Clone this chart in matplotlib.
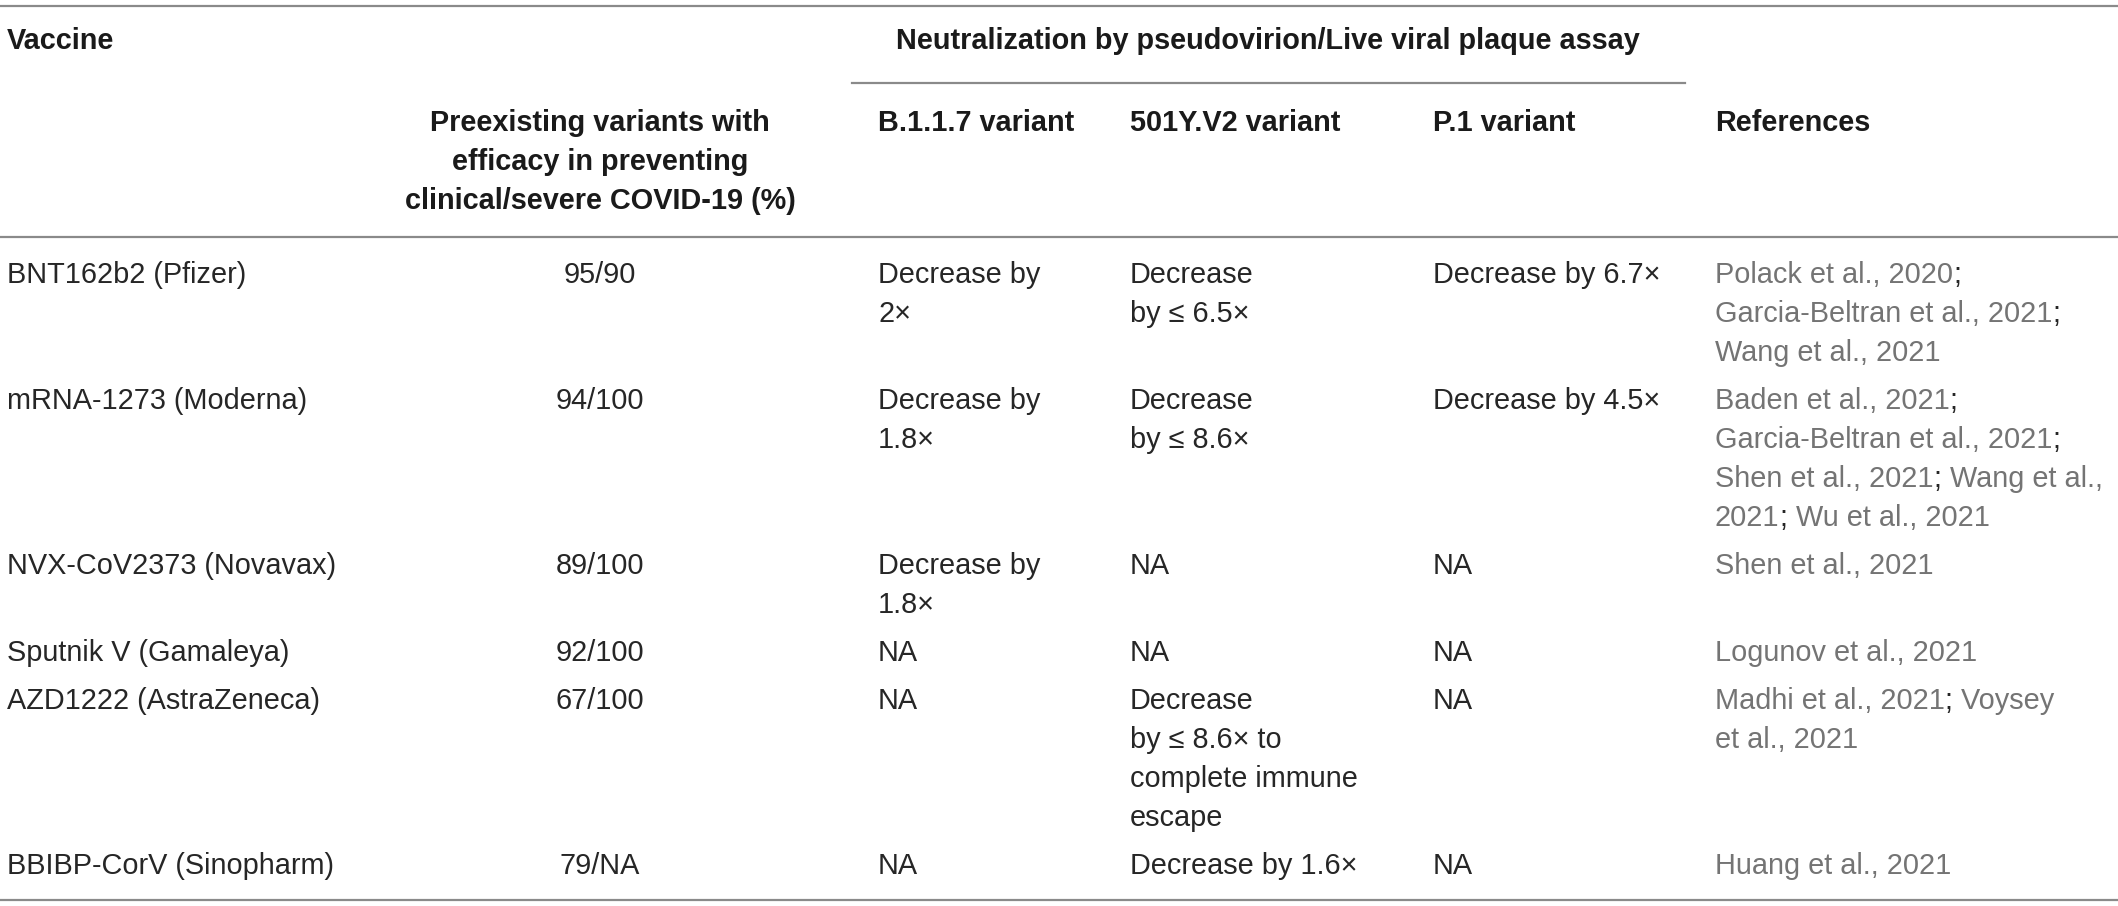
import matplotlib.pyplot as plt

# table contents
vaccines = ['BNT162b2 (Pfizer)', 'mRNA-1273 (Moderna)', 'NVX-CoV2373 (Novavax)',
            'Sputnik V (Gamaleya)', 'AZD1222 (AstraZeneca)', 'BBIBP-CorV (Sinopharm)']
efficacy = ['95/90', '94/100', '89/100', '92/100', '67/100', '79/NA']
b117 = ['Decrease by\n2\u00d7', 'Decrease by\n1.8\u00d7', 'Decrease by\n1.8\u00d7', 'NA', 'NA', 'NA']
v501 = ['Decrease\nby \u2264 6.5\u00d7', 'Decrease\nby \u2264 8.6\u00d7', 'NA', 'NA',
        'Decrease\nby \u2264 8.6\u00d7 to\ncomplete immune\nescape', 'Decrease by 1.6\u00d7']
p1 = ['Decrease by 6.7\u00d7', 'Decrease by 4.5\u00d7', 'NA', 'NA', 'NA', 'NA']
refs = ['Polack et al., 2020;\nGarcia-Beltran et al., 2021;\nWang et al., 2021',
        'Baden et al., 2021;\nGarcia-Beltran et al., 2021;\nShen et al., 2021; Wang et al.,\n2021; Wu et al., 2021',
        'Shen et al., 2021',
        'Logunov et al., 2021',
        'Madhi et al., 2021; Voysey\net al., 2021',
        'Huang et al., 2021']

group_header = 'Neutralization by pseudovirion/Live viral plaque assay'
col_headers = ['Vaccine', 'Preexisting variants with\nefficacy in preventing\nclinical/severe COVID-19 (%)',
               'B.1.1.7 variant', '501Y.V2 variant', 'P.1 variant', 'References']

W, H = 2118, 906
plt.rcParams['font.family'] = ['Liberation Sans', 'DejaVu Sans']
fig = plt.figure(figsize=(W / 100, H / 100), dpi=100)
ax = fig.add_axes([0, 0, 1, 1])
ax.set_xlim(0, W)
ax.set_ylim(H, 0)
ax.axis('off')
renderer = fig.canvas.get_renderer()

fs = 20.8
dark = '#262626'
grey = '#747474'
rule = '#8a8a8a'

col_x = [7, 600, 878, 1130, 1433, 1715]
line_h = 39
row_gap = 9

# rules
ax.plot([0, W], [6, 6], color=rule, lw=1.6)
ax.plot([852, 1685], [83, 83], color=rule, lw=1.6)
ax.plot([0, W], [237, 237], color=rule, lw=1.6)
ax.plot([0, W], [900, 900], color=rule, lw=1.6)

# headers
hd = '#1a1a1a'
ax.text(col_x[0], 41, col_headers[0], fontsize=fs, fontweight='bold', color=hd, va='center')
ax.text(1268, 41, group_header, fontsize=fs, fontweight='bold', color=hd, va='center', ha='center')
for i, ln in enumerate(col_headers[1].split('\n')):
    ax.text(col_x[1], 123 + i * line_h, ln, fontsize=fs, fontweight='bold', color=hd,
            va='center', ha='center')
for j in range(2, 6):
    ax.text(col_x[j], 123, col_headers[j], fontsize=fs, fontweight='bold', color=hd, va='center')


def text_width(s):
    if not s:
        return 0.0
    t = ax.text(0, 0, s, fontsize=fs)
    bb = t.get_window_extent(renderer)
    t.remove()
    inv = ax.transData.inverted()
    return inv.transform((bb.x1, 0))[0] - inv.transform((bb.x0, 0))[0]


def ref_line(x, y, ln):
    # grey citation text, semicolons in the darker body colour
    parts = ln.split(';')
    pos = 0
    for k, part in enumerate(parts):
        if part:
            ax.text(x + text_width(ln[:pos]), y, part, fontsize=fs, color=grey, va='center')
        pos += len(part)
        if k < len(parts) - 1:
            ax.text(x + text_width(ln[:pos]), y, ';', fontsize=fs, color=dark, va='center')
            pos += 1


# body
y = 275
for r in range(len(vaccines)):
    cells = [vaccines[r], efficacy[r], b117[r], v501[r], p1[r], refs[r]]
    nlines = max(c.count('\n') + 1 for c in cells)
    for j, c in enumerate(cells):
        for i, ln in enumerate(c.split('\n')):
            if j == 5:
                ref_line(col_x[j], y + i * line_h, ln)
            else:
                ax.text(col_x[j], y + i * line_h, ln, fontsize=fs, color=dark, va='center',
                        ha='center' if j == 1 else 'left')
    y += nlines * line_h + row_gap

fig.savefig('out.png', dpi=100)
